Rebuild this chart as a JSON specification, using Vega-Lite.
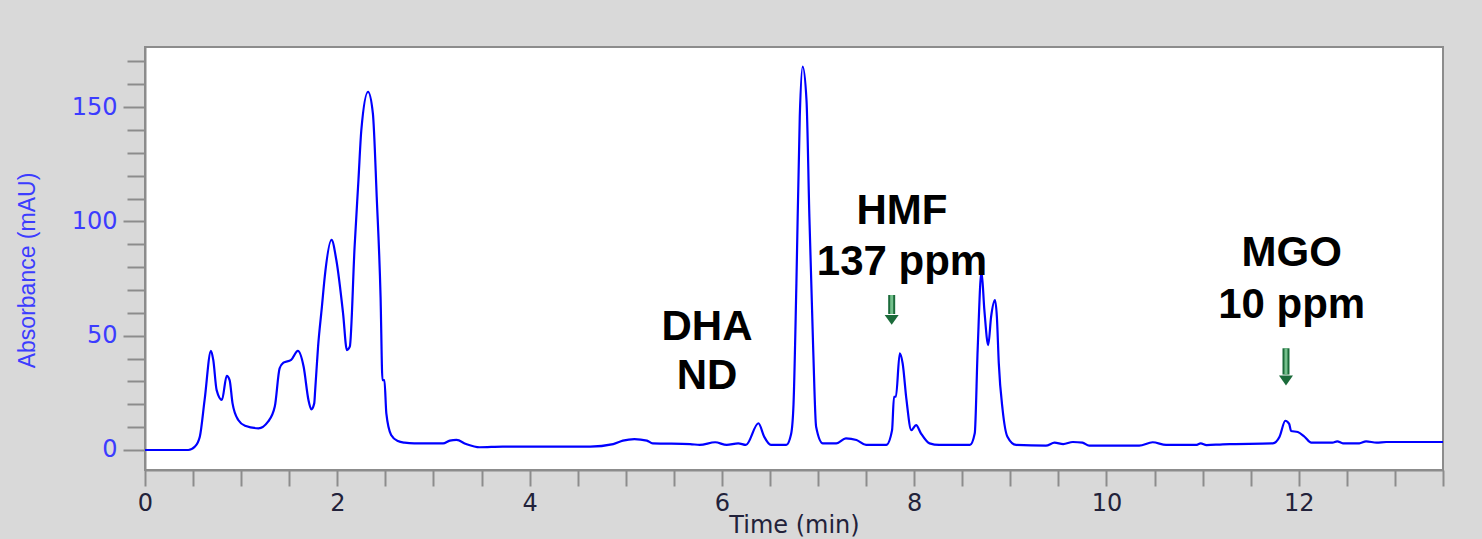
{
  "$schema": "https://vega.github.io/schema/vega-lite/v6.json",
  "width": 1298,
  "height": 423,
  "autosize": {"type": "none"},
  "padding": {"left": 145, "top": 47, "right": 39, "bottom": 69},
  "background": "#d9d9d9",
  "view": {"fill": "white", "stroke": "#8c8c8c", "strokeWidth": 2},
  "datasets": {
    "trace": [
      {"t": 0, "a": 0}, {"t": 0.45, "a": 0}, {"t": 0.52, "a": 1.5}, {"t": 0.57, "a": 5.8},
      {"t": 0.62, "a": 21.9}, {"t": 0.686, "a": 43.4}, {"t": 0.71, "a": 39.4}, {"t": 0.745, "a": 26.2},
      {"t": 0.8, "a": 21.9}, {"t": 0.85, "a": 32.4}, {"t": 0.88, "a": 30.6}, {"t": 0.91, "a": 20.5},
      {"t": 0.97, "a": 13.1}, {"t": 1.04, "a": 10.6}, {"t": 1.18, "a": 9.5}, {"t": 1.28, "a": 12.4},
      {"t": 1.35, "a": 19.0}, {"t": 1.4, "a": 35.7}, {"t": 1.44, "a": 38.2}, {"t": 1.52, "a": 39.4},
      {"t": 1.59, "a": 43.4}, {"t": 1.65, "a": 36.4}, {"t": 1.7, "a": 21.9}, {"t": 1.73, "a": 17.8},
      {"t": 1.76, "a": 20.4}, {"t": 1.77, "a": 26.2}, {"t": 1.8, "a": 45.2}, {"t": 1.84, "a": 62.7},
      {"t": 1.87, "a": 76}, {"t": 1.94, "a": 91.9}, {"t": 1.99, "a": 83.1}, {"t": 2.06, "a": 59.8},
      {"t": 2.1, "a": 43.7}, {"t": 2.13, "a": 45.2}, {"t": 2.18, "a": 88.9}, {"t": 2.22, "a": 118.1},
      {"t": 2.25, "a": 140}, {"t": 2.32, "a": 156.7}, {"t": 2.37, "a": 147.3}, {"t": 2.41, "a": 110.8},
      {"t": 2.45, "a": 67.1}, {"t": 2.47, "a": 30.6}, {"t": 2.49, "a": 30.6}, {"t": 2.51, "a": 16},
      {"t": 2.56, "a": 6.6}, {"t": 2.63, "a": 3.9}, {"t": 2.7, "a": 3.2}, {"t": 2.8, "a": 2.9},
      {"t": 3.1, "a": 2.9}, {"t": 3.17, "a": 4.1}, {"t": 3.24, "a": 4.4}, {"t": 3.34, "a": 2.6},
      {"t": 3.48, "a": 1.2}, {"t": 3.72, "a": 1.5}, {"t": 4.21, "a": 1.5}, {"t": 4.63, "a": 1.5},
      {"t": 4.87, "a": 2.6}, {"t": 4.97, "a": 4.1}, {"t": 5.09, "a": 4.8}, {"t": 5.22, "a": 4.1},
      {"t": 5.28, "a": 2.9}, {"t": 5.67, "a": 2.6}, {"t": 5.77, "a": 2.2}, {"t": 5.93, "a": 3.4},
      {"t": 6.05, "a": 2.2}, {"t": 6.17, "a": 2.9}, {"t": 6.25, "a": 2.2}, {"t": 6.38, "a": 11.7},
      {"t": 6.44, "a": 5.8}, {"t": 6.51, "a": 2.2}, {"t": 6.67, "a": 2.2}, {"t": 6.72, "a": 7},
      {"t": 6.745, "a": 20}, {"t": 6.775, "a": 72.9}, {"t": 6.81, "a": 145.8}, {"t": 6.84, "a": 167.7},
      {"t": 6.88, "a": 153}, {"t": 6.91, "a": 102}, {"t": 6.95, "a": 43.7}, {"t": 6.98, "a": 10.2},
      {"t": 7.05, "a": 2.9}, {"t": 7.19, "a": 2.9}, {"t": 7.29, "a": 5.1}, {"t": 7.4, "a": 4.4},
      {"t": 7.5, "a": 2.2}, {"t": 7.71, "a": 2.2}, {"t": 7.77, "a": 8.7}, {"t": 7.79, "a": 23.3},
      {"t": 7.81, "a": 23.3}, {"t": 7.85, "a": 42.3}, {"t": 7.88, "a": 37.9}, {"t": 7.92, "a": 21.9},
      {"t": 7.97, "a": 8.7}, {"t": 8.02, "a": 10.9}, {"t": 8.07, "a": 7.3}, {"t": 8.16, "a": 2.9},
      {"t": 8.26, "a": 2.2}, {"t": 8.58, "a": 2.2}, {"t": 8.63, "a": 7.3}, {"t": 8.66, "a": 43.7},
      {"t": 8.7, "a": 78}, {"t": 8.73, "a": 61.2}, {"t": 8.77, "a": 45.9}, {"t": 8.8, "a": 58.3},
      {"t": 8.84, "a": 65.6}, {"t": 8.86, "a": 58.3}, {"t": 8.88, "a": 37.9}, {"t": 8.92, "a": 17.5},
      {"t": 8.97, "a": 5.8}, {"t": 9.06, "a": 2.2}, {"t": 9.37, "a": 1.9}, {"t": 9.46, "a": 3.2},
      {"t": 9.55, "a": 2.6}, {"t": 9.65, "a": 3.5}, {"t": 9.75, "a": 3.2}, {"t": 9.82, "a": 1.9},
      {"t": 10.34, "a": 1.9}, {"t": 10.48, "a": 3.4}, {"t": 10.62, "a": 2.2}, {"t": 10.93, "a": 2.2},
      {"t": 10.98, "a": 2.9}, {"t": 11.04, "a": 2.1}, {"t": 11.21, "a": 2.5}, {"t": 11.31, "a": 2.6},
      {"t": 11.73, "a": 2.9}, {"t": 11.8, "a": 5.8}, {"t": 11.86, "a": 12.8}, {"t": 11.9, "a": 11.4},
      {"t": 11.92, "a": 8.3}, {"t": 11.99, "a": 7.9}, {"t": 12.06, "a": 5.8}, {"t": 12.13, "a": 3.2},
      {"t": 12.35, "a": 3.2}, {"t": 12.4, "a": 3.8}, {"t": 12.46, "a": 2.9}, {"t": 12.63, "a": 2.9},
      {"t": 12.7, "a": 3.8}, {"t": 12.81, "a": 3.2}, {"t": 12.91, "a": 3.5}, {"t": 13.5, "a": 3.5}
    ],
    "notes": [
      {"t": 7.873, "a": 98.8, "label": "HMF"},
      {"t": 7.873, "a": 76.5, "label": "137 ppm"},
      {"t": 5.845, "a": 48.1, "label": "DHA"},
      {"t": 5.845, "a": 26.5, "label": "ND"},
      {"t": 11.926, "a": 80.5, "label": "MGO"},
      {"t": 11.926, "a": 57.9, "label": "10 ppm"}
    ],
    "arrows": [
      {"t": 7.766, "a": 67.8, "a2": 59.5, "head": 56.9},
      {"t": 11.867, "a": 44.5, "a2": 33.0, "head": 30.4}
    ]
  },
  "encoding": {
    "x": {
      "field": "t", "type": "quantitative",
      "scale": {"domain": [0, 13.5], "nice": false, "zero": false},
      "axis": {
        "values": [0, 0.5, 1, 1.5, 2, 2.5, 3, 3.5, 4, 4.5, 5, 5.5, 6, 6.5, 7, 7.5, 8, 8.5, 9, 9.5, 10, 10.5, 11, 11.5, 12, 12.5, 13, 13.5],
        "labelExpr": "datum.value % 2 === 0 ? format(datum.value, 'd') : ''",
        "title": "Time (min)",
        "grid": false,
        "tickSize": 16, "tickColor": "#8c8c8c", "tickWidth": 2,
        "domainColor": "#8c8c8c", "domainWidth": 2,
        "labelFont": "DejaVu Sans", "labelFontSize": 24, "labelColor": "#22223a",
        "labelPadding": 5, "labelFlush": false, "labelOverlap": false,
        "titleFont": "DejaVu Sans", "titleFontSize": 24, "titleFontWeight": "normal",
        "titleColor": "#22223a", "titleY": 43, "titleBaseline": "top"
      }
    },
    "y": {
      "field": "a", "type": "quantitative",
      "scale": {"domain": [-8.75, 176.3], "nice": false, "zero": false},
      "axis": {
        "values": [0, 10, 20, 30, 40, 50, 60, 70, 80, 90, 100, 110, 120, 130, 140, 150, 160, 170],
        "labelExpr": "datum.value % 50 === 0 ? format(datum.value, 'd') : ''",
        "title": "Absorbance (mAU)",
        "grid": false,
        "tickSize": {"condition": {"test": "datum.value % 50 === 0", "value": 22}, "value": 18},
        "tickColor": "#8c8c8c", "tickWidth": 2,
        "domainColor": "#8c8c8c", "domainWidth": 2,
        "labelFont": "DejaVu Sans", "labelFontSize": 24, "labelColor": "#3c3cff",
        "labelPadding": 6, "labelOverlap": false, "labelFlush": false,
        "titleFont": "Liberation Sans", "titleFontSize": 23, "titleFontWeight": "normal",
        "titleColor": "#3c3cff", "titleX": -118, "titleY": 223,
        "titleAngle": 270, "titleBaseline": "middle", "titleAlign": "center"
      }
    }
  },
  "layer": [
    {
      "data": {"name": "trace"},
      "mark": {"type": "line", "color": "#0000ff", "strokeWidth": 2.2, "interpolate": "monotone"}
    },
    {
      "data": {"name": "arrows"},
      "mark": {"type": "rule", "color": "#1b6b3a", "strokeWidth": 7},
      "encoding": {"y2": {"field": "a2"}}
    },
    {
      "data": {"name": "arrows"},
      "mark": {"type": "rule", "color": "#74c08c", "strokeWidth": 3},
      "encoding": {"y2": {"field": "a2"}}
    },
    {
      "data": {"name": "arrows"},
      "mark": {"type": "point", "shape": "M-1,-0.7 L1,-0.7 L0,0.7 Z", "size": 196, "filled": true, "color": "#1b6b3a", "opacity": 1},
      "encoding": {"y": {"field": "head", "type": "quantitative"}}
    },
    {
      "data": {"name": "notes"},
      "mark": {"type": "text", "font": "Liberation Sans", "fontSize": 42, "fontWeight": "bold", "color": "#000000", "align": "center", "baseline": "alphabetic"},
      "encoding": {"text": {"field": "label", "type": "nominal"}}
    }
  ]
}
